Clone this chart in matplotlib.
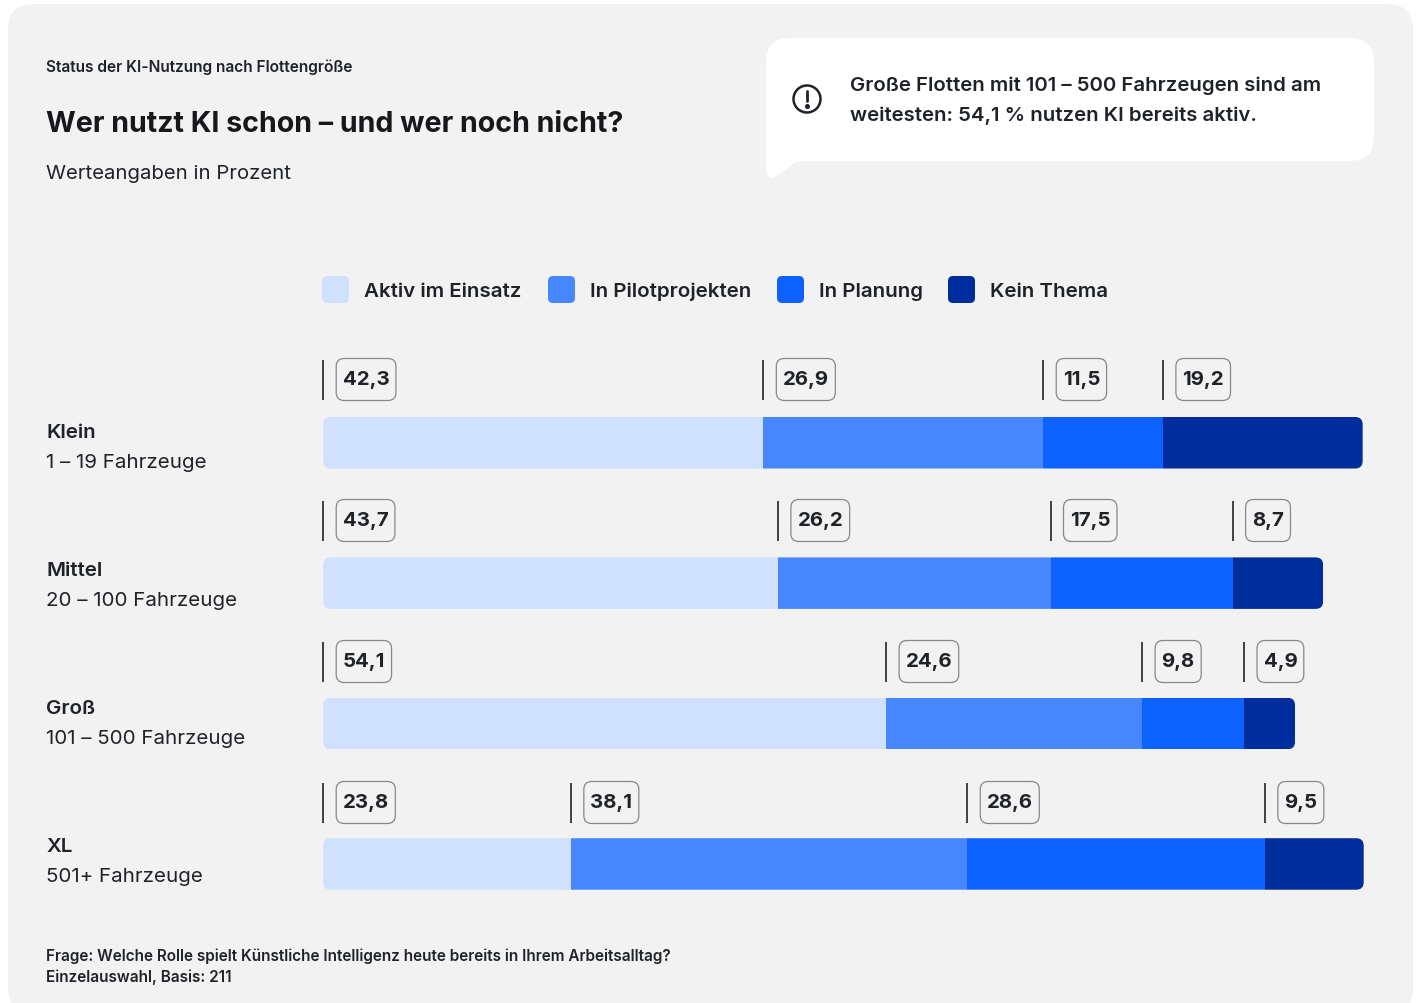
#!/usr/bin/env python3
"""Status der KI-Nutzung nach Flottengröße: gestapelte Balken mit Wert-Markern."""
import matplotlib
matplotlib.use("Agg")
import matplotlib.pyplot as plt
from matplotlib.patches import FancyBboxPatch, PathPatch, Circle
from matplotlib.path import Path

plt.rcParams["font.family"] = ["Inter", "DejaVu Sans"]

groups = ["Klein", "Mittel", "Groß", "XL"]
group_notes = ["1 – 19 Fahrzeuge", "20 – 100 Fahrzeuge", "101 – 500 Fahrzeuge", "501+ Fahrzeuge"]
series = ["Aktiv im Einsatz", "In Pilotprojekten", "In Planung", "Kein Thema"]
aktiv = [42.3, 43.7, 54.1, 23.8]
pilot = [26.9, 26.2, 24.6, 38.1]
planung = [11.5, 17.5, 9.8, 28.6]
kein = [19.2, 8.7, 4.9, 9.5]
colors = ["#D0E1FF", "#4687FF", "#0D62FF", "#002D9C"]
legend_x = [322, 548, 777, 948]

INK = "#1F2328"
W, H = 1417, 1004
fig = plt.figure(figsize=(W / 100, H / 100), dpi=100, facecolor="white")

# page layer in pixel coordinates
bg = fig.add_axes([0, 0, 1, 1])
bg.set_xlim(0, W); bg.set_ylim(H, 0); bg.axis("off")
bg.add_patch(FancyBboxPatch((8, 5), 1405, 1010, boxstyle="round,pad=0,rounding_size=26",
                            fc="#F2F2F2", ec="none"))

# speech bubble with small tail at the lower left
l, r, t, b, c = 766, 1374, 39, 162, 24
verts = [(l + c, t), (r - c, t), (r, t), (r, t + c), (r, b - c), (r, b), (r - c, b),
         (797, b), (778, 176), (768, 183), (766, 171), (l, t + c), (l, t), (l + c, t), (l + c, t)]
codes = [Path.MOVETO, Path.LINETO, Path.CURVE3, Path.CURVE3, Path.LINETO, Path.CURVE3, Path.CURVE3,
         Path.LINETO, Path.LINETO, Path.CURVE3, Path.CURVE3, Path.LINETO, Path.CURVE3, Path.CURVE3,
         Path.CLOSEPOLY]
bg.add_patch(PathPatch(Path(verts, codes), fc="white", ec="none"))

# warning icon
bg.add_patch(Circle((807, 100), 13.5, fc="none", ec=INK, lw=1.8))
bg.plot([807, 807], [92, 102], color=INK, lw=2, solid_capstyle="round")
bg.plot([807], [107.3], "o", color=INK, ms=2.6)

bg.text(46, 72, "Status der KI-Nutzung nach Flottengröße", fontsize=11.15, fontweight=600,
        color=INK, va="baseline")
bg.text(46, 132, "Wer nutzt KI schon – und wer noch nicht?", fontsize=20.65, fontweight="bold",
        color="#16181B", va="baseline")
bg.text(46, 179, "Werteangaben in Prozent", fontsize=14.65, color=INK, va="baseline")
bg.text(849.5, 91, "Große Flotten mit 101 – 500 Fahrzeugen sind am", fontsize=14.7, fontweight=600,
        color=INK, va="baseline")
bg.text(849.5, 121, "weitesten: 54,1 % nutzen KI bereits aktiv.", fontsize=14.7, fontweight=600,
        color=INK, va="baseline")
bg.text(46, 961, "Frage: Welche Rolle spielt Künstliche Intelligenz heute bereits in Ihrem Arbeitsalltag?",
        fontsize=11, fontweight=600, color=INK, va="baseline")
bg.text(46, 982, "Einzelauswahl, Basis: 211", fontsize=11, fontweight=600, color=INK, va="baseline")

# legend
for x, name, col in zip(legend_x, series, colors):
    bg.add_patch(FancyBboxPatch((x, 277), 27, 27, boxstyle="round,pad=0,rounding_size=5", fc=col, ec="none"))
    bg.text(x + 42, 297, name, fontsize=14.8, fontweight=600, color=INK, va="baseline")

# bars: x axis in percent, y axis counts rows
X0 = 323.2
PX = 10.405
ROW = 140.4
BAR = 51.5
top0 = 418
ax = fig.add_axes([X0 / W, 0, 100 * PX / W, 1], facecolor="none")
ax.set_xlim(0, 100)
ax.set_ylim((H - top0) / ROW, -top0 / ROW)
ax.axis("off")
renderer = fig.canvas.get_renderer()

for i, vals in enumerate(zip(aktiv, pilot, planung, kein)):
    top = top0 + i * ROW
    mark_y = 380.5 + i * 141  # marker rows sit on a slightly wider pitch than the bars
    # corner radius has to be equal in pixels, so the clip shape lives on the page layer
    clip = FancyBboxPatch((X0, top), sum(vals) * PX, BAR, boxstyle="round,pad=0,rounding_size=7.5",
                          fc="none", ec="none", transform=bg.transData)
    fig.add_artist(clip)
    left = 0
    for val, col in zip(vals, colors):
        rect = ax.barh(i + BAR / ROW / 2, val, BAR / ROW, left=left, color=col, lw=0)[0]
        rect.set_clip_path(clip)
        x_px = X0 + left * PX
        bg.plot([x_px, x_px], [mark_y - 20, mark_y + 20], color=INK, lw=1.2, solid_capstyle="butt")
        # value text first, then its outlined pill sized around the text width
        label = bg.text(x_px + 19.5, mark_y, f"{val:.1f}".replace(".", ","), fontsize=14.7, fontweight="bold",
                        color=INK, ha="left", va="center", zorder=5)
        w_px = label.get_window_extent(renderer).width
        bg.add_patch(FancyBboxPatch((x_px + 13, mark_y - 21), w_px + 13, 42,
                                    boxstyle="round,pad=0,rounding_size=8", fc="none", ec="#85888B", lw=0.9))
        left += val

for i, (name, note) in enumerate(zip(groups, group_notes)):
    y = 438 + i * 138
    bg.text(46, y, name, fontsize=14.8, fontweight=600, color=INK, va="baseline")
    bg.text(46, y + 30, note, fontsize=14.8, color=INK, va="baseline")

fig.savefig("out.png", dpi=100)
